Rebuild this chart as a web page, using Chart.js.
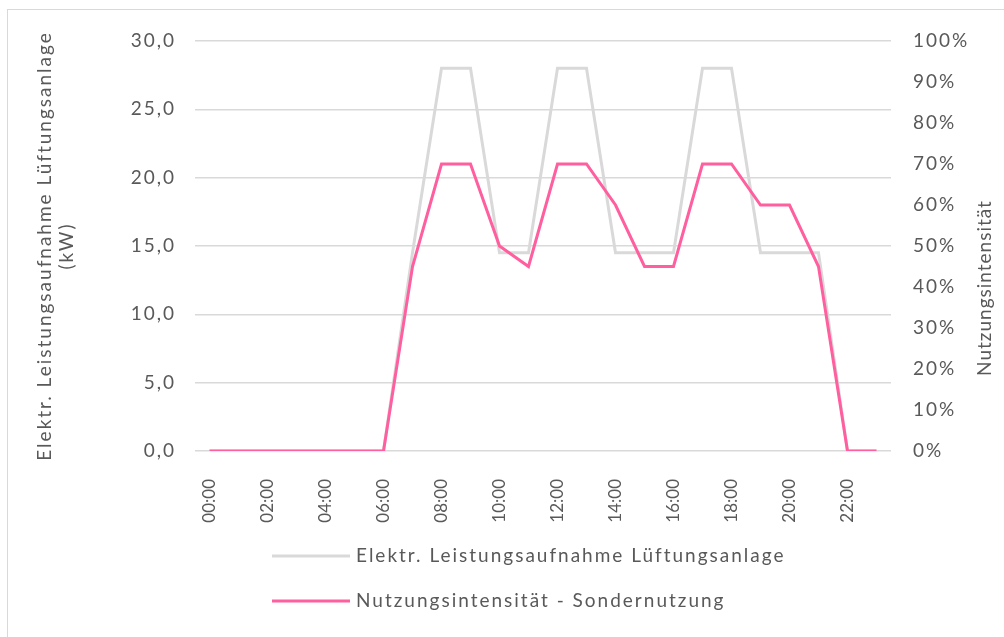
<!DOCTYPE html>
<html>
<head>
<meta charset="utf-8">
<script src="https://cdn.jsdelivr.net/npm/chart.js@4.4.0/dist/chart.umd.min.js"></script>
<style>
  html, body { margin: 0; padding: 0; background: #fff; }
  #wrap { width: 1004px; height: 637px; }
</style>
</head>
<body>
<div id="wrap"><canvas id="mycanvas"></canvas></div>
<script>
// hourly values
var hours = ['00:00','01:00','02:00','03:00','04:00','05:00','06:00','07:00','08:00','09:00','10:00','11:00',
             '12:00','13:00','14:00','15:00','16:00','17:00','18:00','19:00','20:00','21:00','22:00','23:00'];
var leistung = [0,0,0,0,0,0,0,14.5,28,28,14.5,14.5,28,28,14.5,14.5,14.5,28,28,14.5,14.5,14.5,0,0];   // kW
var nutzung  = [0,0,0,0,0,0,0,45,70,70,50,45,70,70,60,45,45,70,70,60,60,45,0,0];                        // %
var leftTicks = [0,5,10,15,20,25,30];
var rightTicks = [0,10,20,30,40,50,60,70,80,90,100];

var textGray = '#595959';
var fontFam = 'Lato, "Liberation Sans", sans-serif';
Chart.defaults.font.family = fontFam;
Chart.defaults.font.size = 19;
Chart.defaults.color = textGray;

// the original text is set quite wide, so space the letters a bit
function spaceLetters(chart) { chart.ctx.letterSpacing = '2px'; }

// frame, legend in two rows and the right-hand axis title (reads bottom-up)
var extras = {
  id: 'extras',
  beforeLayout: spaceLetters,
  afterLayout: function(chart) {
    // hour labels are not spaced out in the original
    var xs = chart.scales.x;
    if (xs && !xs._plainLabels) {
      var orig = xs.drawLabels;
      xs.drawLabels = function(area) {
        var c = this.ctx, old = c.letterSpacing;
        c.letterSpacing = '0px';
        orig.call(this, area);
        c.letterSpacing = old;
      };
      xs._plainLabels = true;
    }
  },
  beforeDraw: function(chart) {
    var ctx = chart.ctx;
    spaceLetters(chart);
    ctx.save();
    ctx.fillStyle = '#fff';
    ctx.fillRect(0, 0, chart.width, chart.height);
    ctx.strokeStyle = '#d9d9d9';
    ctx.lineWidth = 1;
    ctx.strokeRect(7.5, 9.5, 1200, 1200);
    ctx.restore();
  },
  afterDraw: function(chart) {
    var ctx = chart.ctx;
    ctx.save();
    ctx.font = '19px ' + fontFam;
    ctx.textBaseline = 'middle';
    ctx.fillStyle = textGray;
    var rows = [556, 601];
    chart.data.datasets.forEach(function(ds, i) {
      ctx.strokeStyle = ds.borderColor;
      ctx.lineWidth = 3;
      ctx.beginPath();
      ctx.moveTo(272, rows[i]);
      ctx.lineTo(350, rows[i]);
      ctx.stroke();
      ctx.fillText(ds.label, 356, rows[i]);
    });
    ctx.letterSpacing = '1px';
    ctx.translate(985, 288);
    ctx.rotate(-Math.PI / 2);
    ctx.textAlign = 'center';
    ctx.fillText('Nutzungsintensität', 0, 0);
    ctx.restore();
  }
};

var chartdata = {
  labels: hours,
  datasets: [
    {
      label: 'Elektr. Leistungsaufnahme Lüftungsanlage',
      data: leistung,
      yAxisID: 'y',
      borderColor: '#d9d9d9',
      backgroundColor: '#d9d9d9',
      borderWidth: 3,
      pointRadius: 0,
      tension: 0,
      order: 1
    },
    {
      label: 'Nutzungsintensität - Sondernutzung',
      data: nutzung,
      yAxisID: 'y2',
      borderColor: '#ff5f9e',
      backgroundColor: '#ff5f9e',
      borderWidth: 3,
      pointRadius: 0,
      tension: 0,
      order: 0
    }
  ]
};

var ctx = document.getElementById('mycanvas');
var lineGraph = new Chart(ctx, {
  type: 'line',
  data: chartdata,
  plugins: [extras],
  options: {
    responsive: true,
    maintainAspectRatio: false,
    animation: false,
    layout: { padding: { left: 12, top: 41, right: 0, bottom: 96 } },
    plugins: {
      legend: { display: false },
      tooltip: { enabled: false }
    },
    scales: {
      x: {
        offset: true,
        grid: { display: false },
        border: { display: false },
        ticks: {
          autoSkip: false,
          minRotation: 90,
          maxRotation: 90,
          padding: 20,
          font: { size: 17 },
          callback: function(v, i) { return i % 2 === 0 ? hours[i] : ''; }
        },
        afterFit: function(s) { s.height = 90; }
      },
      y: {
        position: 'left',
        min: 0,
        max: 30,
        afterBuildTicks: function(s) { s.ticks = leftTicks.map(function(v) { return { value: v }; }); },
        grid: { color: '#d9d9d9', lineWidth: 1.5, drawTicks: false },
        border: { display: false },
        ticks: {
          padding: 19,
          callback: function(v) { return v.toFixed(1).replace('.', ','); }
        },
        title: {
          display: true,
          text: ['Elektr. Leistungsaufnahme Lüftungsanlage', '(kW)'],
          font: { size: 19 },
          padding: { top: 21, bottom: 0 }
        },
        afterFit: function(s) { s.width = 183; }
      },
      y2: {
        position: 'right',
        min: 0,
        max: 100,
        afterBuildTicks: function(s) { s.ticks = rightTicks.map(function(v) { return { value: v }; }); },
        grid: { display: false, drawTicks: false },
        border: { display: false },
        ticks: {
          padding: 22,
          callback: function(v) { return v + '%'; }
        },
        afterFit: function(s) { s.width = 113; }
      }
    }
  }
});
</script>
</body>
</html>
